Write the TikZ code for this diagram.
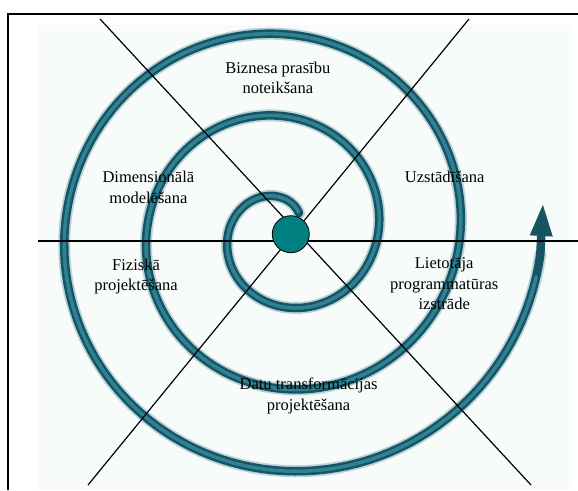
\documentclass[tikz,border=0pt]{standalone}
\usepackage{fontspec}
\setmainfont{Liberation Serif}
\usetikzlibrary{arrows.meta}
\definecolor{spiraldark}{RGB}{22,84,100}
\definecolor{spirallight}{RGB}{48,130,146}
\definecolor{hubteal}{RGB}{0,128,128}
\definecolor{paper}{RGB}{247,251,249}

\begin{document}
\begin{tikzpicture}[x=1pt,y=-1pt]
\tikzset{phase/.style={align=center, anchor=base, font=\fontsize{16.5}{20.5}\selectfont}}
\useasboundingbox (0,0) rectangle (578,490);

\fill[paper] (38,25) rectangle (572,490);
% frame
\draw[line width=1.5pt] (8,490) -- (8,14) -- (578,14);

% spiral
\draw[spirallight!35, line width=12pt, line cap=round] plot[domain=50:1075, samples=400, variable=\t] ({283+(13.4+0.2278*\t)*cos(\t)}, {232-(13.4+0.2278*\t)*sin(\t)});
\draw[spiraldark, line width=8.5pt, line cap=round, -{Triangle[width=20pt,length=34pt]}] plot[domain=50:1075, samples=400, variable=\t] ({283+(13.4+0.2278*\t)*cos(\t)}, {232-(13.4+0.2278*\t)*sin(\t)}) -- (543,202);
\draw[spirallight, line width=3.5pt, line cap=round] plot[domain=52:1070, samples=400, variable=\t] ({283+(13.4+0.2278*\t)*cos(\t)}, {232-(13.4+0.2278*\t)*sin(\t)});

% axes
\coordinate (nw) at (100,19);
\coordinate (se) at (531,485);
\coordinate (ne) at (469,19);
\coordinate (sw) at (88,485);
\coordinate (w) at (38,240.7);
\coordinate (e) at (578,240.7);
\draw[line width=1.2pt] (nw) -- (se);
\draw[line width=1.2pt] (ne) -- (sw);
\draw[line width=2.2pt] (w) -- (e);

\node[circle, draw, fill=hubteal, minimum size=37pt, inner sep=0pt, line width=0.8pt] (hub) at (290.8,234.2) {};

% phases (anchored at the baseline of the last line)
\node[phase] (biz) at (277.8,93.5) {Biznesa prasību\\noteikšana};
\node[phase] (dim) at (148.4,203.2) {Dimensionālā\\modelēšana};
\node[phase] (uzs) at (444.7,182.7) {Uzstādīšana};
\node[phase] (fiz) at (136,290.5) {Fiziskā\\projektēšana};
\node[phase] (lie) at (444.2,309.5) {Lietotāja\\programmatūras\\izstrāde};
\node[phase] (datu) at (308.6,410) {Datu transformācijas\\projektēšana};
\end{tikzpicture}
\end{document}
